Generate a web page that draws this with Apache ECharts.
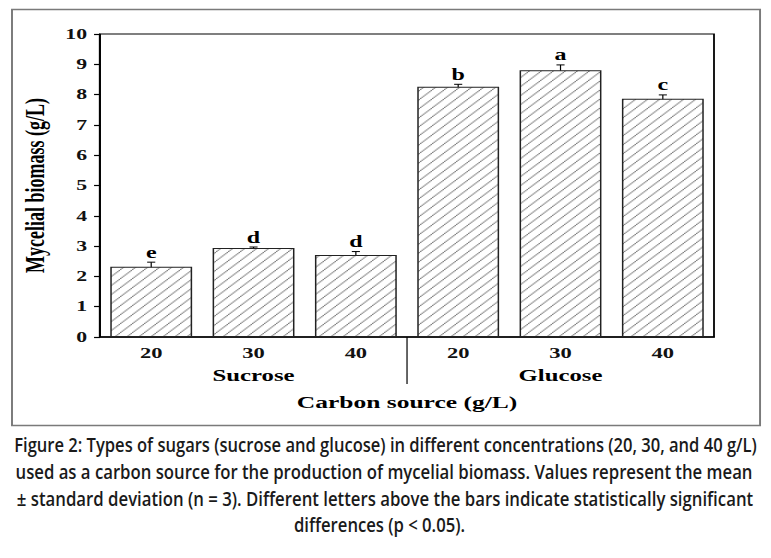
<!DOCTYPE html>
<html>
<head>
<meta charset="utf-8">
<title>Mycelial biomass by carbon source</title>
<script src="https://cdn.jsdelivr.net/npm/echarts@6/dist/echarts.min.js"></script>
<style>
  html, body { margin: 0; padding: 0; background: #fff; overflow: hidden; }
  /* the source figure is stretched sideways, so the chart is drawn narrow and widened */
  #chart { width: 514px; height: 558px; transform: scaleX(1.5); transform-origin: 0 0; }
</style>
</head>
<body>
<div id="chart"></div>
<script>
// ---- data ----
var concentrations = ['20', '30', '40', '20', '30', '40'];   // g/L
var sugarGroups    = ['Sucrose', 'Glucose'];
var biomassMean    = [2.32, 2.94, 2.71, 8.26, 8.80, 7.86];   // g/L
var biomassSd      = [0.15, 0.03, 0.11, 0.08, 0.18, 0.13];
var letters        = ['e', 'd', 'd', 'b', 'a', 'c'];
var yMin = 0, yMax = 10, yStep = 1;

var captionLines = [
  'Figure 2: Types of sugars (sucrose and glucose) in different concentrations (20, 30, and 40 g/L)',
  'used as a carbon source for the production of mycelial biomass. Values represent the mean',
  '\u00b1 standard deviation (n = 3). Different letters above the bars indicate statistically significant',
  'differences (p < 0.05).'
];

// ---- layout ----
var STRETCH = 1.5;
var serif = '"Times New Roman", "Liberation Serif", serif';
var capFont = '600 19px "Open Sans"';
var capWidths = [743, 738, 736];          // justified lines, final pixels
var capCenters = [385.5, 384, 385, 379.5];
var capY = [445, 471.7, 498.3, 525];

// hatch tile: white with "/" strokes
function hatchTile() {
  var c = document.createElement('canvas');
  c.width = 8; c.height = 9;
  var g = c.getContext('2d');
  g.fillStyle = '#fff';
  g.fillRect(0, 0, 8, 9);
  g.strokeStyle = '#444';
  g.lineWidth = 0.7;
  g.beginPath();
  g.moveTo(-8, 9); g.lineTo(0, 0);
  g.moveTo(0, 9); g.lineTo(8, 0);
  g.moveTo(8, 9); g.lineTo(16, 0);
  g.stroke();
  return c;
}

// caption: scale each line so it spans the same width as in the figure
var measure = document.createElement('canvas').getContext('2d');
measure.font = capFont;
var scales = capWidths.map(function (w, i) {
  return w / (measure.measureText(captionLines[i]).width * STRETCH);
});
var meanScale = (scales[0] + scales[1] + scales[2]) / 3;
var captionGraphics = captionLines.map(function (line, i) {
  return {
    type: 'text',
    x: capCenters[i] / STRETCH,
    y: capY[i],
    scaleX: i < scales.length ? scales[i] : meanScale,
    style: {
      text: line,
      font: capFont,
      fill: '#1a1a1a',
      align: 'center',
      verticalAlign: 'middle'
    }
  };
});

var errorData = biomassMean.map(function (m, i) {
  return [i, m, biomassSd[i]];
});
var lastSucrose = concentrations.length / sugarGroups.length - 1;

var chart = echarts.init(document.getElementById('chart'), null, { renderer: 'svg' });

var option = {
  backgroundColor: '#fff',
  animation: false,
  graphic: [{
    type: 'rect',
    shape: { x: 8, y: 9.5, width: 498.7, height: 416 },
    style: { fill: 'none', stroke: '#7a7a7a', lineWidth: 1.3 },
    silent: true
  }].concat(captionGraphics),
  grid: {
    left: 66.7, right: 38, top: 34, bottom: 221,
    show: true,
    borderColor: '#000',
    borderWidth: 1.2
  },
  xAxis: [{
    type: 'category',
    data: concentrations,
    axisLine: { lineStyle: { color: '#000', width: 1.5 } },
    axisTick: { alignWithLabel: true, length: 5, lineStyle: { color: '#000', width: 1 } },
    axisLabel: { fontFamily: serif, fontWeight: 'bold', fontSize: 15, color: '#111', margin: 8 },
    name: 'Carbon source (g/L)',
    nameLocation: 'middle',
    nameGap: 57,
    nameTextStyle: { fontFamily: serif, fontWeight: 'bold', fontSize: 17, color: '#000' }
  }, {
    type: 'category',
    data: sugarGroups,
    position: 'bottom',
    axisLine: { show: false },
    axisTick: { show: false },
    axisLabel: { fontFamily: serif, fontWeight: 'bold', fontSize: 16.5, color: '#000', margin: 30 }
  }],
  yAxis: {
    type: 'value',
    min: yMin, max: yMax, interval: yStep,
    splitLine: { show: false },
    axisLine: { show: true, lineStyle: { color: '#000', width: 1.2 } },
    axisTick: { show: true, length: 4, lineStyle: { color: '#000', width: 1.2 } },
    axisLabel: { fontFamily: serif, fontWeight: 'bold', fontSize: 14.5, color: '#111', margin: 8.7 },
    name: 'Mycelial biomass (g/L)',
    nameLocation: 'middle',
    nameGap: 27,
    nameTextStyle: { fontFamily: serif, fontWeight: 'bold', fontSize: 18, color: '#000' }
  },
  series: [{
    type: 'bar',
    data: biomassMean,
    barCategoryGap: '20%',
    itemStyle: {
      color: { image: hatchTile(), repeat: 'repeat' },
      borderColor: '#222',
      borderWidth: 1
    }
  }, {
    // error bars with significance letters
    type: 'custom',
    data: errorData,
    encode: { x: 0, y: 1 },
    clip: false,
    renderItem: function (params, api) {
      var i = api.value(0), m = api.value(1), sd = api.value(2);
      var top = api.coord([i, m + sd]);
      var bot = api.coord([i, m - sd]);
      var hw = 2.7;
      var stroke = { stroke: '#000', lineWidth: 1 };
      return {
        type: 'group',
        children: [
          { type: 'line', shape: { x1: top[0], y1: top[1], x2: bot[0], y2: bot[1] }, style: { stroke: '#000', lineWidth: 0.8 } },
          { type: 'line', shape: { x1: top[0] - hw, y1: top[1], x2: top[0] + hw, y2: top[1] }, style: stroke },
          { type: 'line', shape: { x1: bot[0] - hw, y1: bot[1], x2: bot[0] + hw, y2: bot[1] }, style: stroke },
          {
            type: 'text',
            x: top[0], y: top[1] - 2,
            style: {
              text: letters[params.dataIndex],
              fontFamily: serif, fontWeight: 'bold', fontSize: 16,
              fill: '#000', align: 'center', verticalAlign: 'bottom'
            }
          }
        ]
      };
    }
  }, {
    // divider between the two sugars, below the axis
    type: 'custom',
    data: [[lastSucrose, lastSucrose + 1, yMin]],
    encode: { x: [0, 1], y: 2 },
    clip: false,
    silent: true,
    renderItem: function (params, api) {
      var a = api.coord([api.value(0), api.value(2)]);
      var b = api.coord([api.value(1), api.value(2)]);
      var x = (a[0] + b[0]) / 2;
      return {
        type: 'line',
        shape: { x1: x, y1: a[1], x2: x, y2: a[1] + 47 },
        style: { stroke: '#000', lineWidth: 0.8 }
      };
    }
  }]
};

chart.setOption(option);
</script>
</body>
</html>
